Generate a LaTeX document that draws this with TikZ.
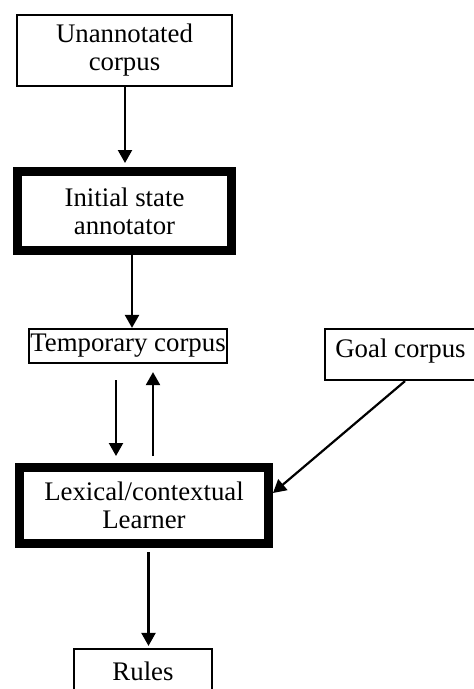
\documentclass[tikz,border=0pt]{standalone}
\usepackage{fontspec}
\setmainfont{Liberation Serif}
\usetikzlibrary{arrows.meta}
\tikzset{
  box/.style={draw, line width=2.2pt, inner sep=0pt, align=center, font=\fontsize{26.8}{28}\selectfont},
  heavy/.style={box, line width=9pt},
  arr/.style={line width=2.2pt, -{Triangle[length=13pt,width=14pt]}},
}
\begin{document}
\begin{tikzpicture}[x=1pt,y=-1pt]
\useasboundingbox (0,0) rectangle (474,689);
\node[box, minimum width=215pt, minimum height=71pt] (un) at (124.5,50.5) {Unannotated\\corpus};
\node[heavy, minimum width=214pt, minimum height=79pt] (init) at (124.5,211) {Initial state\\annotator};
\node[box, minimum width=198pt, minimum height=34pt] (tmp) at (128,346) {Temporary corpus};
\node[box, minimum width=151pt, minimum height=51pt, text height=18pt, text depth=13pt] (goal) at (400.5,354.5) {Goal corpus};
\node[heavy, minimum width=249pt, minimum height=76pt] (lex) at (144,505.5) {Lexical/contextual\\Learner};
\node[box, minimum width=138pt, minimum height=44pt] (rules) at (143,671) {Rules};
\draw[arr, shorten >=4pt] ([xshift=0.5pt]un.south) -- ([xshift=0.5pt]init.north);
\draw[arr] ([xshift=4pt]tmp.north |- init.south) -- ([xshift=4pt]tmp.north);
\draw[arr, shorten <=16pt, shorten >=7pt] ([xshift=-12pt]tmp.south) -- ([xshift=-12pt]tmp.south |- lex.north);
\draw[arr, shorten <=7pt, shorten >=8pt] ([xshift=25pt]tmp.south |- lex.north) -- ([xshift=25pt]tmp.south);
\draw[arr] ([xshift=4.5pt]goal.south) -- ([yshift=12.5pt]lex.east);
\draw[arr, shorten <=4pt, shorten >=2pt] ([xshift=4.5pt]lex.south) -- ([xshift=4.5pt]lex.south |- rules.north);
\end{tikzpicture}
\end{document}
